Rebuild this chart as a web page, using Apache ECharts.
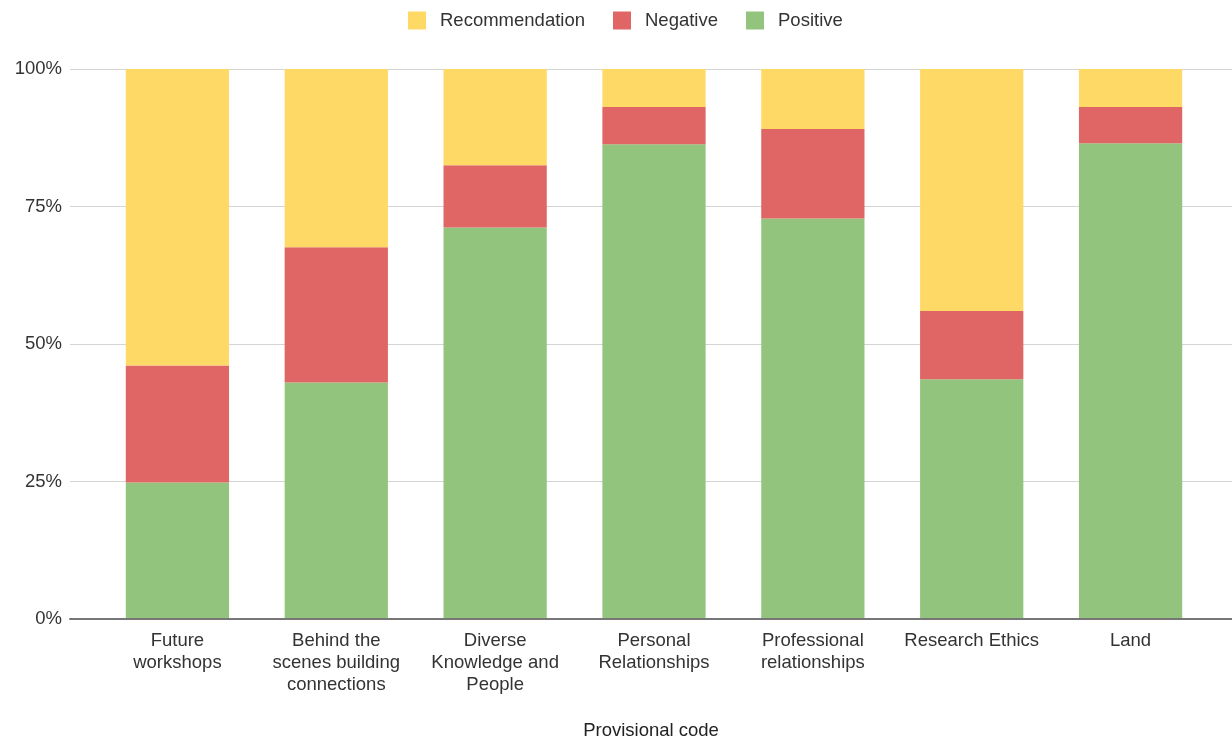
<!DOCTYPE html>
<html>
<head>
<meta charset="utf-8">
<title>Provisional code breakdown</title>
<script src="https://cdn.jsdelivr.net/npm/echarts@6/dist/echarts.min.js"></script>
<style>
  html, body { margin: 0; padding: 0; background: #ffffff; }
  #chart { width: 1232px; height: 742px; }
</style>
</head>
<body>
<div id="chart"></div>
<script>
// Provisional codes (axis labels wrap onto several lines)
const categories = [
  'Future\nworkshops',
  'Behind the\nscenes building\nconnections',
  'Diverse\nKnowledge and\nPeople',
  'Personal\nRelationships',
  'Professional\nrelationships',
  'Research Ethics',
  'Land'
];

// Share of comments per code, in percent
const positive       = [24.8, 43.0, 71.2, 86.3, 72.8, 43.6, 86.5];
const negative       = [21.3, 24.6, 11.3,  6.8, 16.3, 12.4,  6.6];
const recommendation = [53.9, 32.4, 17.5,  6.9, 10.9, 44.0,  6.9];

const yTicks = [0, 25, 50, 75, 100];

const FONT = '"Liberation Sans", Arial, sans-serif';
const FS = 18.5;

const chart = echarts.init(document.getElementById('chart'), null, { renderer: 'canvas' });

chart.setOption({
  backgroundColor: '#ffffff',
  animation: false,
  textStyle: { fontFamily: FONT },
  legend: {
    top: 6,
    left: 403,
    data: ['Recommendation', 'Negative', 'Positive'],
    itemWidth: 18,
    itemHeight: 18,
    itemGap: 28,
    icon: 'rect',
    textStyle: { fontFamily: FONT, fontSize: FS, color: '#333', padding: [0, 0, 0, 9] }
  },
  grid: [
    // full-width grid carrying the gridlines, tick labels and axis title
    { left: 70, right: 0, top: 69, bottom: 123, outerBoundsMode: 'none', containLabel: false },
    // grid for the bars
    { left: 98, right: 22, top: 69, bottom: 123, outerBoundsMode: 'none', containLabel: false }
  ],
  xAxis: [
    {
      gridIndex: 0,
      type: 'category',
      data: [''],
      axisLine: { show: true, lineStyle: { color: '#777', width: 2 } },
      axisTick: { show: false },
      axisLabel: { show: false },
      name: 'Provisional code',
      nameLocation: 'middle',
      nameGap: 102,
      nameTextStyle: { fontFamily: FONT, fontSize: FS, color: '#222' },
      z: 5
    },
    {
      gridIndex: 1,
      type: 'category',
      data: categories,
      axisLine: { show: false },
      axisTick: { show: false },
      axisLabel: {
        interval: 0,
        margin: 11,
        fontFamily: FONT,
        fontSize: FS,
        lineHeight: 22,
        color: '#333'
      }
    }
  ],
  yAxis: [
    {
      gridIndex: 0,
      type: 'value',
      min: yTicks[0],
      max: yTicks[yTicks.length - 1],
      interval: 25,
      axisLine: { show: false },
      axisTick: { show: false },
      axisLabel: {
        margin: 8,
        fontFamily: FONT,
        fontSize: FS,
        color: '#333',
        formatter: v => v + '%'
      },
      splitLine: { show: true, lineStyle: { color: '#d4d4d4', width: 1 } }
    },
    {
      gridIndex: 1,
      type: 'value',
      min: 0,
      max: 100,
      interval: 25,
      show: false,
      splitLine: { show: false }
    }
  ],
  series: [
    {
      name: 'Positive',
      type: 'bar',
      stack: 'share',
      xAxisIndex: 1,
      yAxisIndex: 1,
      barCategoryGap: '35%',
      itemStyle: { color: '#93c47d' },
      data: positive
    },
    {
      name: 'Negative',
      type: 'bar',
      stack: 'share',
      xAxisIndex: 1,
      yAxisIndex: 1,
      barCategoryGap: '35%',
      itemStyle: { color: '#e06666' },
      data: negative
    },
    {
      name: 'Recommendation',
      type: 'bar',
      stack: 'share',
      xAxisIndex: 1,
      yAxisIndex: 1,
      barCategoryGap: '35%',
      itemStyle: { color: '#ffd966' },
      data: recommendation
    }
  ]
});
</script>
</body>
</html>
